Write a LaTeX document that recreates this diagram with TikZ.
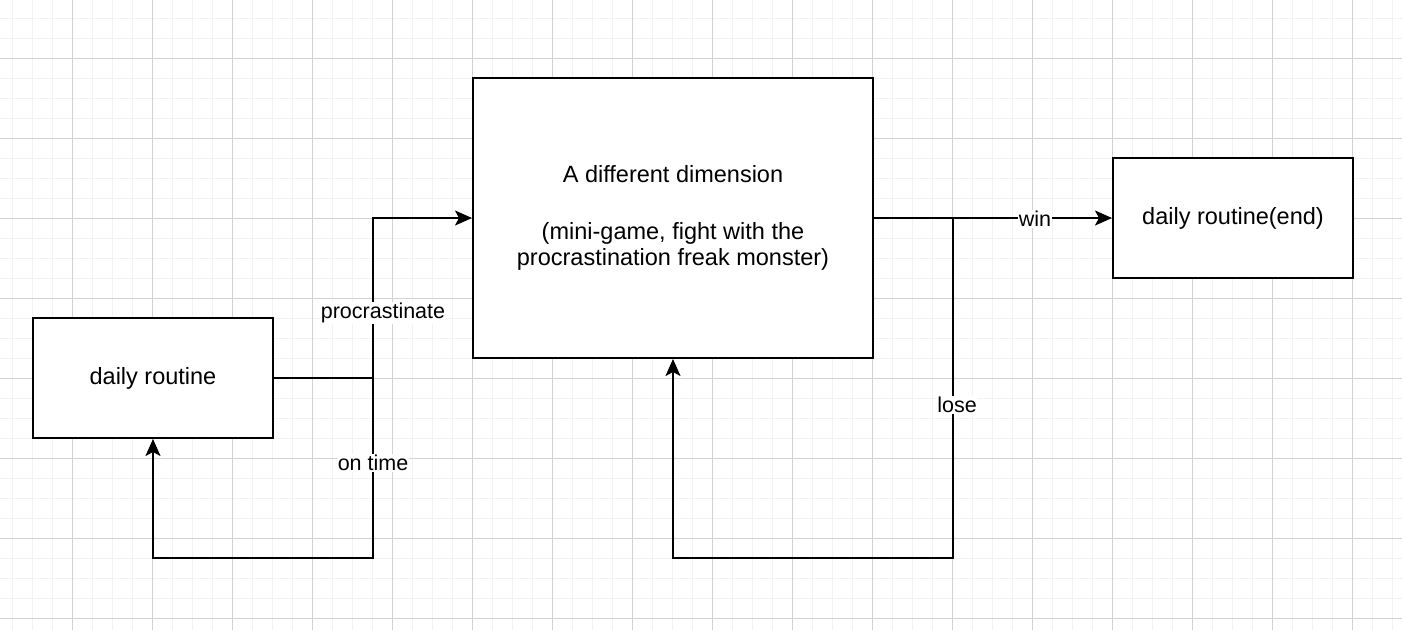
\documentclass[tikz,border=0pt]{standalone}
\usepackage{fontspec}
\setmainfont{Liberation Sans}
\usetikzlibrary{arrows.meta}
\tikzset{>={Stealth[length=17pt,width=15pt,inset=4pt]}}
\tikzset{
  statebox/.style = {
    draw, fill=white, line width=2pt,
    inner sep=0pt, align=center,
    font=\fontsize{23.5}{26}\selectfont
  },
  flow/.style = {line width=2pt},
  edgelabel/.style = {
    fill=white, inner sep=1pt,
    font=\fontsize{21.5}{25}\selectfont
  }
}
\definecolor{gridminor}{RGB}{242,242,242}
\definecolor{gridmajor}{RGB}{210,210,210}

\begin{document}
\begin{tikzpicture}[x=1pt,y=-1pt]
  \useasboundingbox (0,0) rectangle (1402,630);
  \fill[white] (0,0) rectangle (1402,630);
  % background grid
  \foreach \gx in {12,32,...,1402} \draw[gridminor,line width=1pt] (\gx,0) -- (\gx,630);
  \foreach \gy in {18,38,...,630} \draw[gridminor,line width=1pt] (0,\gy) -- (1402,\gy);
  \foreach \gx in {72,152,...,1402} \draw[gridmajor,line width=1pt] (\gx,0) -- (\gx,630);
  \foreach \gy in {58,138,...,630} \draw[gridmajor,line width=1pt] (0,\gy) -- (1402,\gy);

  % states
  \node[statebox,minimum width=240pt,minimum height=120pt] (routine) at (153,378) {daily routine};
  \node[statebox,minimum width=400pt,minimum height=280pt] (dimension) at (673,218)
    {A different dimension\\[31pt](mini-game, fight with the\\procrastination freak monster)};
  \node[statebox,minimum width=240pt,minimum height=120pt] (end) at (1233,218) {daily routine(end)};

  % junctions
  \coordinate (split) at (373,378);
  \coordinate (branch) at (953,218);

  \draw[flow] (routine.east) -- (split);
  \draw[flow,->] (split) |- (dimension.west);
  \draw[flow,->] (split) -- (373,558) -| (routine.south);
  \draw[flow,->] (dimension.east) -- (end.west);
  \draw[flow,->] (branch) -- (953,558) -| (dimension.south);

  % labels
  \node[edgelabel] (procrastinate) at (383,313) {procrastinate};
  \node[edgelabel] (ontime) at (373,463) {on time};
  \node[edgelabel] (win) at (1035,219) {win};
  \node[edgelabel] (lose) at (957,405) {lose};
\end{tikzpicture}
\end{document}
